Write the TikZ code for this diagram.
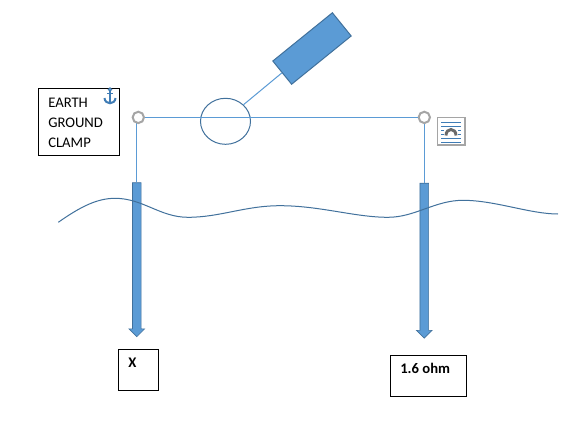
\documentclass[tikz,border=0pt]{standalone}
\usepackage{fontspec}
\setmainfont{Carlito}
\usetikzlibrary{shapes.geometric,shapes.arrows}
\definecolor{accent}{HTML}{5B9BD5}
\definecolor{accentdark}{HTML}{41719C}
\definecolor{termgray}{HTML}{A5A5A5}
\definecolor{iconblue}{HTML}{3F7CB5}
\definecolor{icongray}{HTML}{6B6B6B}
\tikzset{
  wire/.style={draw=accent,line width=0.75pt},
  labelbox/.style={draw=black,line width=0.75pt,fill=white,inner sep=0pt},
  boxtext/.style={anchor=base west,inner sep=0pt,font=\fontsize{11}{13}\selectfont},
  boldtext/.style={anchor=base west,inner sep=0pt,font=\fontsize{11}{13}\selectfont\bfseries},
  terminal/.style={circle,draw=termgray,line width=1.5pt,fill=white,minimum size=8.5pt,inner sep=0pt},
  rod/.style={single arrow,draw=accentdark,fill=accent,line width=0.5pt,inner sep=3pt,
    minimum width=11.25pt,single arrow head extend=2.6pt,single arrow tip angle=90,
    single arrow head indent=0pt,shape border rotate=270},
  iconline/.style={draw=iconblue,line width=0.75pt}
}
\begin{document}
\begin{tikzpicture}[x=0.75pt,y=-0.75pt]
\useasboundingbox[fill=white] (0,0) rectangle (579,440);
% boxes
\node[labelbox,minimum width=60.75pt,minimum height=50.25pt] (earth) at (78.8,121.8) {};
\node[labelbox,minimum width=30pt,minimum height=30.75pt] (xbox) at (138.3,369.8) {};
\node[labelbox,minimum width=56.7pt,minimum height=31pt] (ohmbox) at (428.5,376) {};
\node[boxtext] (t1) at (48,107) {EARTH};
\node[boxtext] (t2) at (48,127) {GROUND};
\node[boxtext] (t3) at (48,147) {CLAMP};
\node[boldtext] (t4) at (128,367) {X};
\node[boldtext] (t5) at (400,373) {1.6 ohm};
% rods
\node[rod,minimum height=115.5pt] (rodl) at (136.8,257.5) {};
\node[rod,minimum height=116.2pt] (rodr) at (424.3,258.5) {};
% wave
\draw[draw=accentdark,line width=0.75pt] (58.3,222.3)
  .. controls (80,207) and (97,198.3) .. (115,198.3)
  .. controls (143,198.3) and (160,217.3) .. (188,217.3)
  .. controls (220,217.3) and (245,205.7) .. (280,205.7)
  .. controls (320,205.7) and (355,217.3) .. (388,217.3)
  .. controls (415,217.3) and (435,200.3) .. (463,200.3)
  .. controls (495,200.3) and (530,214) .. (558,214);
% tester
\node[ellipse,draw=accentdark,line width=0.75pt,minimum width=37.5pt,minimum height=34.5pt,inner sep=0pt] (meter) at (225.5,121.3) {};
\node[rectangle,draw=accentdark,fill=accent,line width=0.75pt,minimum width=57.5pt,minimum height=22.4pt,inner sep=0pt,rotate=39] (bar) at (312,48.5) {};
\draw[wire] (meter.north east) -- (bar.west);
% terminals
\draw[wire] (rodl.tail |- 138,122) -- (rodl.tail);
\draw[wire] (rodr.tail |- 424,122) -- (rodr.tail);
\node[terminal] (tl) at (138.3,117.4) {};
\node[terminal] (tr) at (424.3,117.4) {};
\draw[wire] (tl) -- (tr);
% layout icon
\draw[draw=termgray,line width=0.9pt,fill=white] (437.5,117.5) rectangle (465,145);
\draw[iconline] (441,122.5) -- (461,122.5) (441,126.5) -- (461,126.5) (441,138.5) -- (461,138.5) (441,142) -- (461,142);
\draw[iconline] (441,130.5) -- (444,130.5) (458,130.5) -- (461,130.5) (441,134.5) -- (444,134.5) (458,134.5) -- (461,134.5);
\draw[draw=icongray,line width=2.2pt] (446,135.5) .. controls (446,127.5) and (456,127.5) .. (456,135.5);
% anchor icon
\draw[iconline,line width=0.9pt] (110,89.5) circle[radius=1.5];
\draw[iconline,line width=1.2pt] (110,91) -- (110,103) (107,93.5) -- (113,93.5);
\draw[iconline,line width=1.5pt] (104.5,98) .. controls (105,105) and (115,105) .. (115.5,98);
\end{tikzpicture}
\end{document}
